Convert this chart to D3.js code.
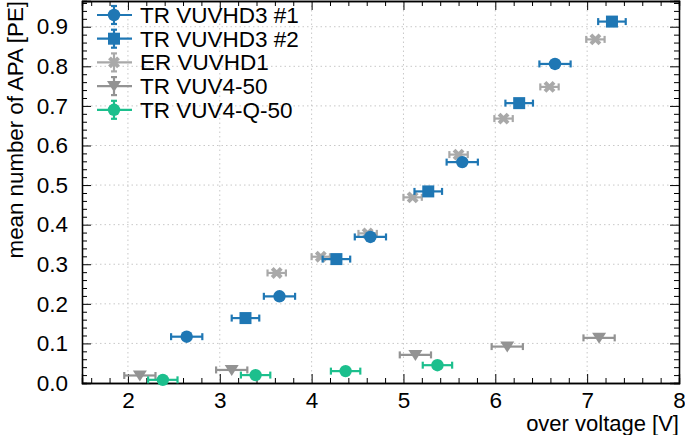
<!DOCTYPE html>
<html><head><meta charset="utf-8">
<script src="https://cdn.jsdelivr.net/npm/d3@7"></script>
<style>body{margin:0;background:#fff}svg{display:block}text{font-family:"Liberation Sans",Arial,sans-serif}</style>
</head><body><svg id="c" width="685" height="435"></svg>
<script>
const seriesNames = ["TR VUVHD3 #1","TR VUVHD3 #2","ER VUVHD1","TR VUV4-50","TR VUV4-Q-50"];
const seriesColors = ["#1f77b4","#1f77b4","#a9a9a9","#939393","#1cbf8d"];
const seriesMarkers = ["circle","square","cross","triangle","circle"];
const hd3_1_x = [2.64,3.65,4.64,5.64,6.65];
const hd3_1_y = [0.117,0.219,0.369,0.558,0.806];
const hd3_1_xerr = [0.17,0.17,0.17,0.17,0.17];
const hd3_2_x = [3.28,4.27,5.27,6.26,7.27];
const hd3_2_y = [0.164,0.313,0.484,0.707,0.913];
const hd3_2_xerr = [0.15,0.15,0.15,0.15,0.15];
const er_x = [3.62,4.10,4.61,5.10,5.60,6.09,6.59,7.09];
const er_y = [0.278,0.319,0.378,0.469,0.577,0.668,0.748,0.868];
const er_xerr = [0.1,0.1,0.1,0.1,0.1,0.1,0.1,0.1];
const vuv4_x = [2.13,3.13,5.13,6.13,7.13];
const vuv4_y = [0.019,0.033,0.071,0.092,0.114];
const vuv4_xerr = [0.17,0.17,0.17,0.17,0.17];
const vuv4q_x = [2.38,3.39,4.37,5.37];
const vuv4q_y = [0.008,0.020,0.030,0.045];
const vuv4q_xerr = [0.16,0.16,0.16,0.16];
const xTicks = [2,3,4,5,6,7,8];
const yTicks = [0.0,0.1,0.2,0.3,0.4,0.5,0.6,0.7,0.8,0.9];
const xLabel = "over voltage [V]";
const yLabel = "mean number of APA [PE]";

const seriesX = [hd3_1_x,hd3_2_x,er_x,vuv4_x,vuv4q_x];
const seriesY = [hd3_1_y,hd3_2_y,er_y,vuv4_y,vuv4q_y];
const seriesXerr = [hd3_1_xerr,hd3_2_xerr,er_xerr,vuv4_xerr,vuv4q_xerr];

const svg = d3.select("#c");
const L=82,R=679,T=1,B=383;
const x = d3.scaleLinear().domain([1.5,8]).range([L,R]);
const y = d3.scaleLinear().domain([0,0.965]).range([B,T]);

// grid
const g = svg.append("g");
g.selectAll(".gx").data(xTicks.filter(d=>d<8)).join("line")
 .attr("x1",d=>x(d)).attr("x2",d=>x(d)).attr("y1",T).attr("y2",B)
 .attr("stroke","#c8c8c8").attr("stroke-width",1).attr("stroke-dasharray","1.5,3");
g.selectAll(".gy").data(yTicks.filter(d=>d>0)).join("line")
 .attr("x1",L).attr("x2",R).attr("y1",d=>y(d)).attr("y2",d=>y(d))
 .attr("stroke","#c8c8c8").attr("stroke-width",1).attr("stroke-dasharray","1.5,3");

// axes with inward ticks
const xMinor = d3.range(1.6,8.0001,0.2).map(v=>+v.toFixed(2)).filter(v=>Math.abs(v-Math.round(v))>1e-6);
const yMinor = d3.range(0.02,0.965,0.02).map(v=>+v.toFixed(3)).filter(v=>Math.abs(v*10-Math.round(v*10))>1e-6);
const fs = 22.5;
svg.append("g").attr("transform",`translate(0,${B})`)
 .call(d3.axisBottom(x).tickValues(xTicks).tickSize(-9).tickPadding(9).tickFormat(d3.format("d")));
svg.append("g").attr("transform",`translate(0,${B})`).call(d3.axisBottom(x).tickValues(xMinor).tickSize(-5).tickFormat(""));
svg.append("g").attr("transform",`translate(0,${T})`)
 .call(d3.axisTop(x).tickValues(xTicks).tickSize(-9).tickFormat(""));
svg.append("g").attr("transform",`translate(0,${T})`).call(d3.axisTop(x).tickValues(xMinor).tickSize(-5).tickFormat(""));
svg.append("g").attr("transform",`translate(${L},0)`)
 .call(d3.axisLeft(y).tickValues(yTicks).tickSize(-9).tickPadding(14).tickFormat(d3.format(".1f")));
svg.append("g").attr("transform",`translate(${L},0)`).call(d3.axisLeft(y).tickValues(yMinor).tickSize(-5).tickFormat(""));
svg.append("g").attr("transform",`translate(${R},0)`).call(d3.axisRight(y).tickValues(yTicks).tickSize(-9).tickFormat(""));
svg.append("g").attr("transform",`translate(${R},0)`).call(d3.axisRight(y).tickValues(yMinor).tickSize(-5).tickFormat(""));
svg.selectAll(".domain").attr("stroke","#000").attr("stroke-width",1.3);
svg.selectAll(".tick line").attr("stroke","#000").attr("stroke-width",1);
svg.selectAll(".tick text").attr("font-size",fs).attr("fill","#000").style("font-family","'Liberation Sans',Arial,sans-serif");

svg.append("text").attr("x",679).attr("y",431).attr("text-anchor","end").attr("font-size",22).text(xLabel);
svg.append("text").attr("transform",`translate(23,${1}) rotate(-90)`).attr("text-anchor","end").attr("font-size",22.3).text(yLabel);

function marker(sel, type, cx, cy, color){
  if(type==="circle") sel.append("circle").attr("cx",cx).attr("cy",cy).attr("r",6.2).attr("fill",color);
  else if(type==="square") sel.append("rect").attr("x",cx-6).attr("y",cy-6).attr("width",12).attr("height",12).attr("fill",color);
  else if(type==="triangle") sel.append("path").attr("d",`M${cx-7},${cy-5}L${cx+7},${cy-5}L${cx},${cy+6}Z`).attr("fill",color);
  else if(type==="cross") sel.append("path").attr("d",d3.symbol(d3.symbolX,55)()).attr("transform",`translate(${cx},${cy})`).attr("fill",color).attr("stroke",color).attr("stroke-width",4).attr("stroke-linejoin","round");
}

const order=[2,3,0,1,4];
order.forEach(i=>{
  const gs = svg.append("g");
  const col = seriesColors[i];
  seriesX[i].forEach((xv,j)=>{
    const yv = seriesY[i][j], e = seriesXerr[i][j];
    const px = x(xv), py = y(yv), x0 = x(xv-e), x1 = x(xv+e);
    gs.append("line").attr("x1",x0).attr("x2",x1).attr("y1",py).attr("y2",py).attr("stroke",col).attr("stroke-width",2.2);
    gs.append("line").attr("x1",x0).attr("x2",x0).attr("y1",py-3.5).attr("y2",py+3.5).attr("stroke",col).attr("stroke-width",2.2);
    gs.append("line").attr("x1",x1).attr("x2",x1).attr("y1",py-3.5).attr("y2",py+3.5).attr("stroke",col).attr("stroke-width",2.2);
    marker(gs, seriesMarkers[i], px, py, col);
  });
});

// legend
seriesNames.forEach((n,i)=>{
  const cy = 15 + i*23.7, col = seriesColors[i];
  const lg = svg.append("g");
  lg.append("line").attr("x1",97).attr("x2",132).attr("y1",cy).attr("y2",cy).attr("stroke",col).attr("stroke-width",2.2);
  lg.append("line").attr("x1",114).attr("x2",114).attr("y1",cy-9).attr("y2",cy+9).attr("stroke",col).attr("stroke-width",2.2);
  lg.append("line").attr("x1",111).attr("x2",117).attr("y1",cy-9).attr("y2",cy-9).attr("stroke",col).attr("stroke-width",2.2);
  lg.append("line").attr("x1",111).attr("x2",117).attr("y1",cy+9).attr("y2",cy+9).attr("stroke",col).attr("stroke-width",2.2);
  marker(lg, seriesMarkers[i], 114, cy, col);
  lg.append("text").attr("x",140).attr("y",cy+8).attr("font-size",fs).attr("fill","#000").text(n);
});
</script></body></html>
